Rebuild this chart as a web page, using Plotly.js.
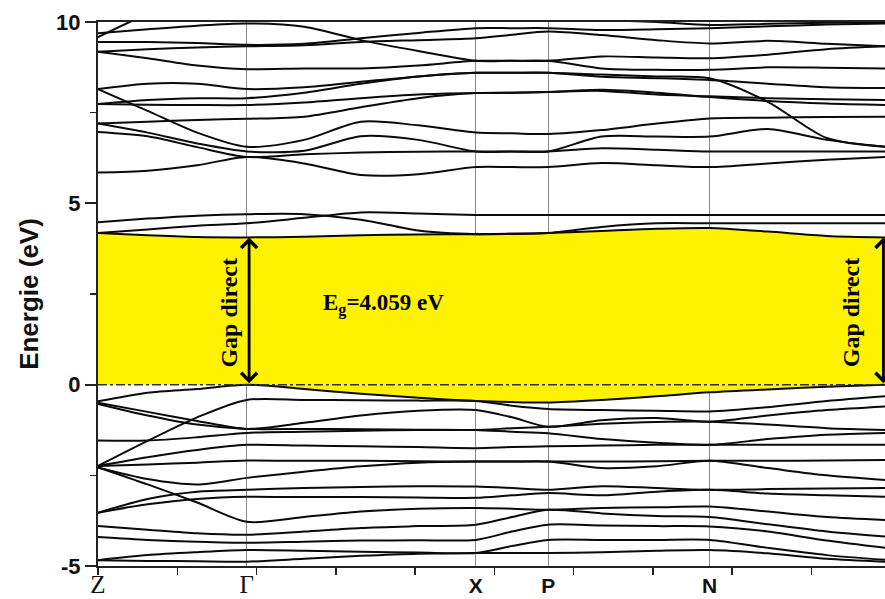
<!DOCTYPE html>
<html>
<head>
<meta charset="utf-8">
<script src="https://cdn.plot.ly/plotly-3.0.1.min.js"></script>
<style>html,body{margin:0;padding:0;background:#fff;}#chart{width:885px;height:599px;}</style>
</head>
<body>
<div id="chart"></div>
<script>
// k-path positions (sampling points along Z-Γ-X-P-N-Γ)
const kPath = [0, 0.63, 1.26, 1.89, 2.62, 3.34, 4.07, 4.80, 5.26, 5.72, 6.40, 7.10, 7.77, 8.51, 9.26, 10.0];
// high-symmetry points
const symPoints = [0, 1.89, 4.80, 5.72, 7.77, 10.0];
const symLabels = ['Z', 'Γ', 'X', 'P', 'N', 'Γ'];
const gapValue = 4.059;

// conduction bands (eV)
const cb01 = [4.18, 4.12, 4.07, 4.06, 4.08, 4.12, 4.14, 4.15, 4.16, 4.18, 4.24, 4.30, 4.32, 4.22, 4.10, 4.06];
const cb02 = [4.18, 4.28, 4.38, 4.45, 4.60, 4.75, 4.72, 4.68, 4.68, 4.68, 4.68, 4.68, 4.68, 4.68, 4.68, 4.68];
const cb03 = [4.48, 4.58, 4.66, 4.70, 4.70, 4.55, 4.25, 4.15, 4.16, 4.18, 4.35, 4.45, 4.45, 4.45, 4.45, 4.45];
const cb04 = [5.85, 5.90, 6.05, 6.28, 6.10, 5.78, 5.80, 6.00, 6.00, 6.00, 6.11, 6.05, 6.00, 6.10, 6.20, 6.28];
const cb05 = [6.97, 6.85, 6.55, 6.28, 6.35, 6.40, 6.42, 6.43, 6.43, 6.43, 6.52, 6.48, 6.43, 6.43, 6.43, 6.43];
const cb06 = [7.20, 6.95, 6.65, 6.43, 6.45, 6.85, 6.75, 6.43, 6.43, 6.43, 6.84, 6.84, 6.84, 7.05, 6.75, 6.56];
const cb07 = [8.15, 7.55, 6.95, 6.56, 6.75, 7.25, 7.15, 6.95, 6.93, 6.91, 7.02, 7.20, 7.34, 7.36, 7.38, 7.39];
const cb08 = [7.20, 7.25, 7.30, 7.33, 7.39, 7.65, 7.90, 8.04, 8.05, 8.07, 8.10, 8.00, 7.95, 7.90, 7.87, 7.85];
const cb09 = [7.74, 7.72, 7.71, 7.71, 7.78, 7.90, 8.00, 8.04, 8.05, 8.07, 8.13, 8.05, 7.93, 7.82, 7.75, 7.71];
const cb10 = [7.74, 7.85, 7.90, 7.90, 8.05, 8.30, 8.50, 8.60, 8.60, 8.60, 8.55, 8.50, 8.45, 7.80, 6.80, 6.56];
const cb11 = [8.15, 8.30, 8.30, 8.15, 8.20, 8.35, 8.50, 8.60, 8.60, 8.60, 8.49, 8.45, 8.40, 8.30, 8.20, 8.18];
const cb12 = [9.18, 9.00, 8.80, 8.70, 8.72, 8.72, 8.80, 8.93, 8.93, 8.93, 8.72, 8.68, 8.68, 8.75, 8.74, 8.72];
const cb13 = [9.18, 9.25, 9.30, 9.33, 9.36, 9.45, 9.50, 9.55, 9.65, 9.74, 9.64, 9.50, 9.41, 9.48, 9.40, 9.33];
const cb14 = [9.45, 9.45, 9.42, 9.37, 9.40, 9.55, 9.70, 9.83, 9.83, 9.83, 9.78, 9.80, 9.83, 9.88, 9.93, 9.96];
const cb15 = [9.58, 10.20, 10.50, 10.60, 10.50, 10.40, 10.30, 10.20, 10.15, 10.10, 10.05, 10.00, 9.92, 9.95, 9.98, 10.00];
const cb16 = [9.69, 9.80, 9.90, 9.96, 9.87, 9.50, 9.20, 8.93, 8.93, 8.93, 9.05, 9.02, 9.00, 9.10, 9.25, 9.33];

// valence bands (eV)
const vb01 = [-0.46, -0.22, -0.12, 0.00, -0.12, -0.25, -0.36, -0.45, -0.48, -0.49, -0.42, -0.32, -0.21, -0.13, -0.06, 0.00];
const vb02 = [-2.24, -1.55, -0.90, -0.42, -0.42, -0.43, -0.44, -0.45, -0.58, -0.67, -0.70, -0.72, -0.74, -0.62, -0.45, -0.32];
const vb03 = [-0.50, -0.75, -1.00, -1.22, -1.05, -0.85, -0.72, -0.70, -0.90, -1.16, -0.98, -0.92, -1.02, -0.85, -0.70, -0.60];
const vb04 = [-0.53, -0.85, -1.10, -1.22, -1.22, -1.23, -1.24, -1.25, -1.30, -1.34, -1.50, -1.60, -1.66, -1.50, -1.38, -1.33];
const vb05 = [-1.54, -1.54, -1.45, -1.33, -1.30, -1.27, -1.25, -1.25, -1.20, -1.16, -1.08, -1.03, -1.02, -1.10, -1.20, -1.25];
const vb06 = [-2.24, -2.00, -1.80, -1.66, -1.68, -1.70, -1.72, -1.75, -1.72, -1.70, -1.68, -1.66, -1.66, -1.66, -1.66, -1.66];
const vb07 = [-2.24, -2.20, -2.15, -2.09, -2.10, -2.10, -2.11, -2.12, -2.12, -2.12, -2.12, -2.11, -2.10, -2.10, -2.09, -2.08];
const vb08 = [-2.28, -2.60, -2.75, -2.57, -2.40, -2.25, -2.15, -2.12, -2.12, -2.12, -2.30, -2.25, -2.10, -2.30, -2.50, -2.63];
const vb09 = [-2.28, -2.75, -3.25, -3.78, -3.65, -3.50, -3.42, -3.40, -3.42, -3.45, -3.40, -3.38, -3.36, -3.50, -3.65, -3.73];
const vb10 = [-3.53, -3.15, -2.95, -2.90, -2.85, -2.82, -2.80, -2.81, -2.85, -2.90, -2.80, -2.85, -2.90, -2.88, -2.86, -2.85];
const vb11 = [-3.53, -3.30, -3.15, -3.09, -3.10, -3.10, -3.11, -3.12, -3.05, -2.99, -3.05, -2.95, -2.90, -3.00, -3.05, -3.09];
const vb12 = [-3.90, -4.00, -4.10, -4.14, -4.05, -3.95, -3.90, -3.86, -3.65, -3.45, -3.55, -3.62, -3.65, -3.85, -4.05, -4.19];
const vb13 = [-4.20, -4.28, -4.33, -4.36, -4.33, -4.30, -4.29, -4.28, -4.05, -3.86, -3.88, -3.90, -3.91, -4.05, -4.30, -4.50];
const vb14 = [-4.84, -4.70, -4.62, -4.56, -4.58, -4.61, -4.63, -4.64, -4.45, -4.28, -4.28, -4.28, -4.28, -4.50, -4.70, -4.83];
const vb15 = [-4.84, -4.86, -4.87, -4.88, -4.80, -4.72, -4.66, -4.64, -4.64, -4.64, -4.62, -4.58, -4.56, -4.65, -4.80, -4.88];

const conduction = [cb01, cb02, cb03, cb04, cb05, cb06, cb07, cb08, cb09, cb10, cb11, cb12, cb13, cb14, cb15, cb16];
const valence = [vb01, vb02, vb03, vb04, vb05, vb06, vb07, vb08, vb09, vb10, vb11, vb12, vb13, vb14, vb15];

const gammaK = symPoints[1];
const gapBottom = kPath.map((k, i) => (k < gammaK ? 0 : vb01[i]));

const traces = [];
traces.push({x: kPath, y: gapBottom, mode: 'lines', line: {width: 0, shape: 'spline', smoothing: 0.8}, hoverinfo: 'skip', showlegend: false});
traces.push({x: kPath, y: cb01, mode: 'lines', fill: 'tonexty', fillcolor: '#fff200', line: {width: 0, shape: 'spline', smoothing: 0.8}, hoverinfo: 'skip', showlegend: false});
conduction.concat(valence).forEach(b => {
  traces.push({x: kPath, y: b, mode: 'lines', line: {color: '#0a0a0a', width: 2, shape: 'spline', smoothing: 0.8}, showlegend: false, hoverinfo: 'skip'});
});

const serif = 'Liberation Serif, Times New Roman, serif';
const sans = 'Liberation Sans, Arial, sans-serif';
const tickText = symLabels.map(s => (s === 'Z' || s === 'Γ')
  ? '<span style="font-family:' + serif + ';font-size:25px;font-weight:normal">' + s + '</span>'
  : '<b>' + s + '</b>');

const layout = {
  width: 885, height: 599,
  margin: {l: 98, r: 0, t: 22, b: 33},
  paper_bgcolor: '#fff', plot_bgcolor: '#fff',
  showlegend: false,
  xaxis: {
    range: [0, 10], tickmode: 'array', tickvals: symPoints, ticktext: tickText,
    showgrid: true, gridcolor: '#8a8a8a', gridwidth: 1, zeroline: false,
    showline: true, linecolor: '#222', linewidth: 2, mirror: true,
    ticks: 'outside', ticklen: 0, ticklabelstandoff: 0,
    tickfont: {family: sans, size: 21, color: '#111'},
    minor: {tickmode: 'linear', tick0: 0, dtick: 1.007, ticks: 'outside', ticklen: 7, tickwidth: 1.5, tickcolor: '#222', showgrid: false}
  },
  yaxis: {
    range: [-5, 10], tickmode: 'array', tickvals: [-5, 0, 5, 10], ticktext: ['<b>-5</b>', '<b>0</b>', '<b>5</b>', '<b>10</b>'],
    showgrid: false, zeroline: false, showline: true, linecolor: '#222', linewidth: 2,
    ticks: 'outside', ticklen: 11, tickwidth: 2, tickcolor: '#222',
    tickfont: {family: sans, size: 22, color: '#111'},
    minor: {tickmode: 'linear', tick0: -5, dtick: 2.5, ticks: 'outside', ticklen: 6, tickwidth: 1.5, tickcolor: '#222', showgrid: false},
    title: {text: '<b>Energie (eV)</b>', font: {family: sans, size: 26, color: '#111'}, standoff: 10}
  },
  shapes: [
    {type: 'line', xref: 'x', yref: 'y', x0: 0, x1: 10, y0: 0, y1: 0, line: {color: '#333', width: 1.5, dash: 'dashdot'}}
  ],
  annotations: [
    {x: gammaK + 0.03, y: gapValue, ax: gammaK + 0.03, ay: 0, xref: 'x', yref: 'y', axref: 'x', ayref: 'y', text: '', showarrow: true,
     arrowside: 'end+start', arrowhead: 4, startarrowhead: 4, arrowsize: 1.1, startarrowsize: 1.1, arrowwidth: 2.8, arrowcolor: '#000'},
    {x: 9.98, y: gapValue, ax: 9.98, ay: 0, xref: 'x', yref: 'y', axref: 'x', ayref: 'y', text: '', showarrow: true,
     arrowside: 'end+start', arrowhead: 4, startarrowhead: 4, arrowsize: 1.1, startarrowsize: 1.1, arrowwidth: 2.8, arrowcolor: '#000'},
    {x: 1.67, y: 2.0, xref: 'x', yref: 'y', text: '<b>Gap direct</b>', textangle: -90, showarrow: false,
     font: {family: serif, size: 24, color: '#000'}},
    {x: 9.57, y: 2.0, xref: 'x', yref: 'y', text: '<b>Gap direct</b>', textangle: -90, showarrow: false,
     font: {family: serif, size: 24, color: '#000'}},
    {x: 3.63, y: 2.2, xref: 'x', yref: 'y', text: '<b>E<sub>g</sub>=' + gapValue.toFixed(3) + ' eV</b>', showarrow: false,
     font: {family: serif, size: 23, color: '#000'}}
  ]
};

Plotly.newPlot('chart', traces, layout, {staticPlot: true, displayModeBar: false});
</script>
</body>
</html>
